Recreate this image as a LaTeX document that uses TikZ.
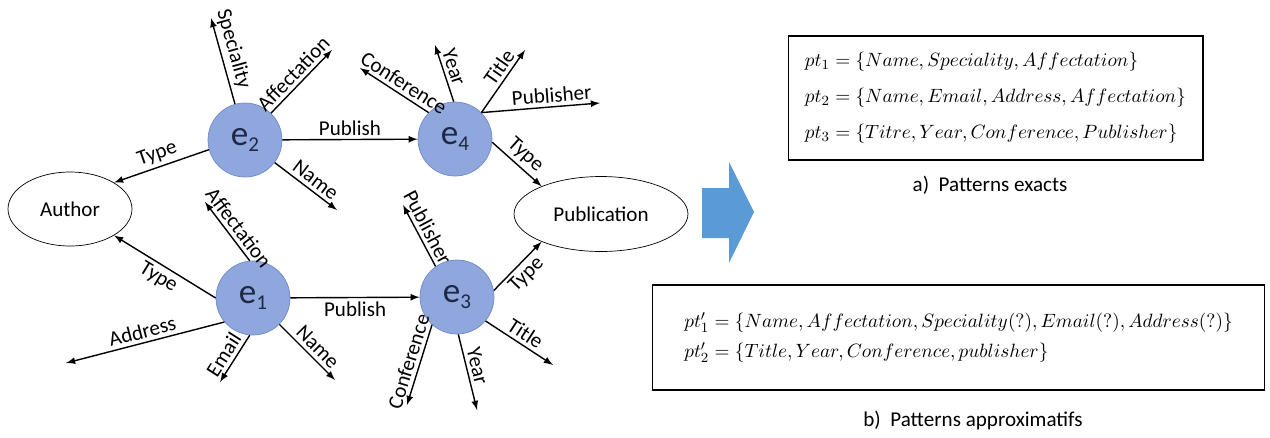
\documentclass[tikz,border=0pt]{standalone}
\usepackage[no-math]{fontspec}
\setmainfont{Carlito}
\usepackage{tikz}
\usetikzlibrary{shapes.geometric}
\definecolor{entityfill}{RGB}{143,167,220}
\definecolor{entityline}{RGB}{110,138,200}
\definecolor{entitytext}{RGB}{30,40,70}
\definecolor{bigarrow}{RGB}{91,155,213}
\tikzset{
    entity/.style={shape=circle, draw=entityline, fill=entityfill, text=entitytext, minimum size=1.48cm, inner sep=0pt, font=\fontsize{20}{20}\selectfont},
    concept/.style={shape=ellipse, draw, inner sep=0pt, font=\fontsize{12}{14}\selectfont},
    prop/.style={->, line width=0.8pt},
    lbl/.style={sloped, inner sep=2pt, font=\fontsize{12}{14}\selectfont},
    patternbox/.style={draw, line width=0.6pt, align=left},
    capt/.style={font=\fontsize{12}{14}\selectfont}
}
\newcommand{\ent}[1]{e\raisebox{-0.4ex}{\fontsize{12}{12}\selectfont #1}}

\begin{document}
\begin{tikzpicture}[x=0.02cm, y=-0.02cm, >=latex]
    \useasboundingbox (0,0) rectangle (1270,437);

        \node[entity] (e2) at (245,140) {\ent{2}};
        \node[entity] (e1) at (253,298) {\ent{1}};
        \node[entity] (e4) at (455,139) {\ent{4}};
        \node[entity] (e3) at (457,297) {\ent{3}};
        \node[concept, minimum width=2.48cm, minimum height=1.48cm] (Author) at (70,209) {Author};
        \node[concept, minimum width=3.48cm, minimum height=1.5cm] (Publication) at (601,214) {Publication};

        \coordinate (spec2) at (211,18);
        \coordinate (affect2) at (332,50);
        \coordinate (name2) at (337,210);
        \coordinate (affect1) at (205,202);
        \coordinate (address1) at (66,363);
        \coordinate (email1) at (220,382);
        \coordinate (name1) at (335,380);
        \coordinate (conf4) at (360,68);
        \coordinate (year4) at (435,45);
        \coordinate (title4) at (525,50);
        \coordinate (publisher4) at (600,103);
        \coordinate (publisher3) at (403,205);
        \coordinate (title3) at (553,365);
        \coordinate (year3) at (477,410);
        \coordinate (conf3) at (407,405);

        \draw[prop] (e2) -- (spec2) node[lbl, pos=0.6, above] {Speciality};
        \draw[prop] (e2) -- (affect2) node[lbl, midway, above] {Affectation};
        \draw[prop] (e2) -- (name2) node[lbl, pos=0.55, above] {Name};
        \draw[prop] (e2.195) -- (Author.31) node[lbl, midway, above] {Type};
        \draw[prop] (e2) -- (e4) node[lbl, midway, above] {Publish};

        \draw[prop] (e1.95) -- (affect1) node[lbl, pos=0.45, above] {Affectation};
        \draw[prop] (e1.180) -- (Author.-31) node[lbl, midway, below] {Type};
        \draw[prop] (e1.220) -- (address1) node[lbl, midway, above] {Address};
        \draw[prop] (e1.265) -- (email1) node[lbl, pos=0.55, above] {Email};
        \draw[prop] (e1) -- (name1) node[lbl, pos=0.55, above] {Name};
        \draw[prop] (e1) -- (e3) node[lbl, midway, below] {Publish};

        \draw[prop] (e4.135) -- (conf4) node[lbl, pos=0.45, above] {Conference};
        \draw[prop] (e4.92) -- (year4) node[lbl, pos=0.55, above] {Year};
        \draw[prop] (e4.45) -- (title4) node[lbl, pos=0.62, above] {Title};
        \draw[prop] (e4.45) -- (publisher4) node[lbl, pos=0.6, above] {Publisher};
        \draw[prop] (e4.-5) -- (Publication.155) node[lbl, midway, above] {Type};

        \draw[prop] (e3.125) -- (publisher3) node[lbl, pos=0.55, above] {Publisher};
        \draw[prop] (e3.10) -- (Publication.205) node[lbl, midway, below] {Type};
        \draw[prop] (e3.-40) -- (title3) node[lbl, pos=0.5, above] {Title};
        \draw[prop] (e3.-88) -- (year3) node[lbl, pos=0.45, above] {Year};
        \draw[prop] (e3.228) -- (conf3) node[lbl, pos=0.5, above] {Conference};

        \fill[bigarrow] (702,188) -- (729,188) -- (729,162) -- (754,212) -- (729,263) -- (729,238) -- (702,238) -- cycle;

        \node[patternbox, minimum width=8.3cm, minimum height=2.48cm, font=\fontsize{11}{20.5}\selectfont] (exact) at (995.5,98)
            {$pt_1 = \{Name, Speciality, Affectation\}$\\
             $pt_2 = \{Name, Email, Address, Affectation\}$\\
             $pt_3 = \{Titre, Year, Conference, Publisher\}$};
        \node[capt] (exactcap) at (990,185) {a)\ \ Patterns exacts};

        \node[patternbox, minimum width=12.26cm, minimum height=2.1cm, font=\fontsize{11}{17}\selectfont] (approx) at (958.5,337.5)
            {$pt'_1 = \{Name, Affectation, Speciality(?), Email(?), Address(?)\}$\\
             $pt'_2 = \{Title, Year, Conference, publisher\}$};
        \node[capt] (approxcap) at (973,420) {b)\ \ Patterns approximatifs};

\end{tikzpicture}
\end{document}
